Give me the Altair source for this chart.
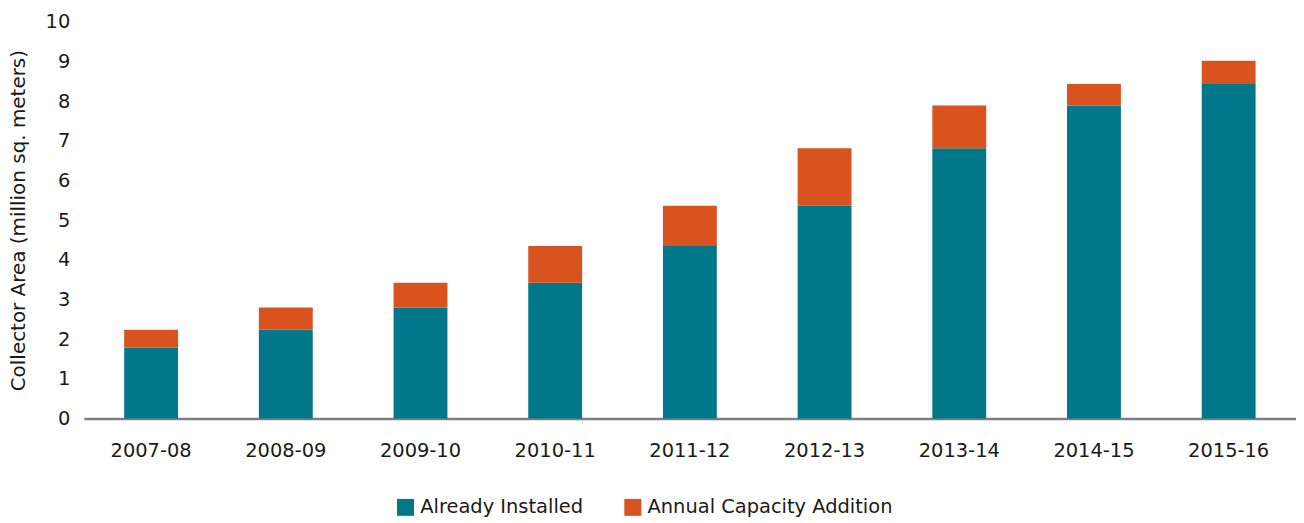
import altair as alt
import pandas as pd

years = ["2007-08", "2008-09", "2009-10", "2010-11", "2011-12",
         "2012-13", "2013-14", "2014-15", "2015-16"]
already_installed = [1.79, 2.24, 2.80, 3.42, 4.35, 5.36, 6.81, 7.89, 8.43]
annual_addition = [0.45, 0.56, 0.62, 0.93, 1.01, 1.45, 1.08, 0.54, 0.59]
series = ["Already Installed", "Annual Capacity Addition"]
colors = ["#007889", "#D9531E"]

rows = []
for y, a, b in zip(years, already_installed, annual_addition):
    rows.append({"year": y, "series": series[0], "value": a, "ord": 0})
    rows.append({"year": y, "series": series[1], "value": b, "ord": 1})
df = pd.DataFrame(rows)

FONT = "DejaVu Sans"
FS = 19.5
TXT = "#1a1a1a"

chart = alt.Chart(df).mark_bar().encode(
    x=alt.X("year:N", sort=years, title=None,
            scale=alt.Scale(paddingInner=0.6, paddingOuter=0.3),
            axis=alt.Axis(labelAngle=0, labelFontSize=FS, labelColor=TXT,
                          labelFont=FONT, labelPadding=23, ticks=False,
                          domainColor="#7f7f7f", domainWidth=2.5, grid=False)),
    y=alt.Y("value:Q", stack="zero",
            title="Collector Area (million sq. meters)",
            scale=alt.Scale(domain=[0, 10], nice=False),
            axis=alt.Axis(values=list(range(0, 11)), labelFontSize=FS,
                          labelColor=TXT, labelFont=FONT, labelPadding=14,
                          ticks=False, domain=False, grid=False,
                          titleFontSize=20, titleFont=FONT, titleFontWeight="normal",
                          titleColor=TXT, titlePadding=17)),
    color=alt.Color("series:N", sort=series,
                    scale=alt.Scale(domain=series, range=colors),
                    legend=alt.Legend(orient="none", legendX=313, legendY=477,
                                      title=None, direction="horizontal",
                                      symbolType="square", symbolSize=289,
                                      symbolStrokeWidth=0, labelFontSize=FS,
                                      labelFont=FONT, labelColor=TXT, labelLimit=0,
                                      columnPadding=40, labelOffset=5)),
    order=alt.Order("ord:Q", sort="ascending"),
).properties(
    width=1216, height=398,
    padding={"left": 0, "top": 3, "right": 0, "bottom": 0},
).configure_view(stroke=None)

chart.save("out.html", embed_options={"renderer": "svg", "actions": False})
